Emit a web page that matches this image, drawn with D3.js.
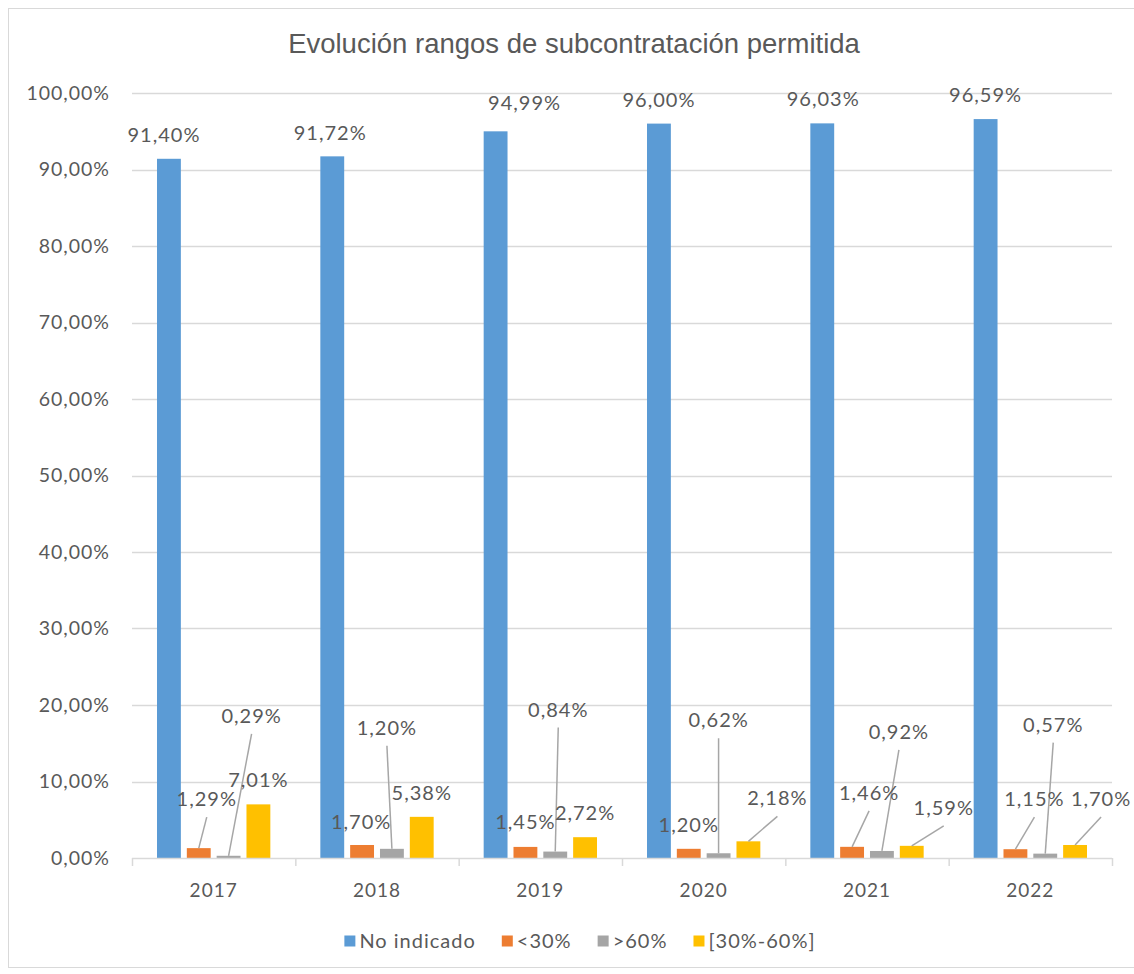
<!DOCTYPE html>
<html>
<head>
<meta charset="utf-8">
<script src="https://cdn.jsdelivr.net/npm/d3@7"></script>
<style>
  body { margin: 0; background: #fff; }
  text { font-family: Lato, "Open Sans", sans-serif; fill: #595959; }
</style>
</head>
<body>
<svg class="chart"></svg>
<script>
const years = ['2017', '2018', '2019', '2020', '2021', '2022']
const seriesNames = ['No indicado', '<30%', '>60%', '[30%-60%]']
const noIndicado = [91.40, 91.72, 94.99, 96.00, 96.03, 96.59]
const menos30 = [1.29, 1.70, 1.45, 1.20, 1.46, 1.15]
const mas60 = [0.29, 1.20, 0.84, 0.62, 0.92, 0.57]
const entre30y60 = [7.01, 5.38, 2.72, 2.18, 1.59, 1.70]
const yTicks = [0, 10, 20, 30, 40, 50, 60, 70, 80, 90, 100]

const colors = ['#5b9bd5', '#ed7d31', '#a5a5a5', '#ffc000']
const allValues = [noIndicado, menos30, mas60, entre30y60]

// hand-placed label nudges (px) like in the original sheet, [dx, dy] per series/year
const labelNudge = [
  [[-5, 0], [-2, 1], [29, -4], [0, 0], [1, 0], [0, 0]],
  [[8, -25], [-1, 1], [0, -1], [0, 0], [17, -30], [19, -26]],
  [[23, -116], [-5, -97], [3, -118], [0, -109], [17, -95], [8, -105]],
  [[0, 0], [0, 0], [0, 0], [29, -19], [32, -14], [26, -22]]
]

const width = 1134, height = 974
const margin = { top: 93, right: 22, bottom: 116, left: 132 }

const svg = d3.select('.chart')
  .attr('width', width)
  .attr('height', height)

const fmt = d3.formatLocale({ decimal: ',', thousands: '.', grouping: [3], currency: ['', '€'] }).format('.2f')
const pct = v => fmt(v) + '%'

const x0 = d3.scaleBand()
  .domain(years)
  .range([margin.left, width - margin.right])
  .padding(0)

const x1 = d3.scaleBand()
  .domain(seriesNames)
  .range([25, x0.bandwidth() - 25])
  .paddingInner(0.2)

const y = d3.scaleLinear()
  .domain([0, 100])
  .range([height - margin.bottom, margin.top])

// outer frame
svg.append('rect')
  .attr('x', 8.5).attr('y', 8.5)
  .attr('width', width + 10).attr('height', 959)
  .attr('fill', 'none')
  .attr('stroke', '#d9d9d9')

svg.append('text')
  .attr('x', 574).attr('y', 53)
  .attr('text-anchor', 'middle')
  .style('font-family', '"Liberation Sans", Arial, sans-serif')
  .style('font-size', '27.5px')
  .text('Evolución rangos de subcontratación  permitida')

// gridlines
svg.append('g')
  .selectAll('line')
  .data(yTicks.slice(1))
  .join('line')
  .attr('x1', margin.left).attr('x2', width - margin.right)
  .attr('y1', d => Math.round(y(d)) + 0.5).attr('y2', d => Math.round(y(d)) + 0.5)
  .attr('stroke', '#d9d9d9')
  .attr('stroke-width', 1.5)

// y axis labels
svg.append('g')
  .selectAll('text')
  .data(yTicks)
  .join('text')
  .attr('x', 110)
  .attr('y', d => y(d))
  .attr('dy', '0.35em')
  .attr('text-anchor', 'end')
  .style('font-size', '19.5px')
  .style('letter-spacing', '1px')
  .text(pct)

// bars
const groups = svg.append('g')
  .selectAll('g')
  .data(seriesNames)
  .join('g')
  .attr('fill', (d, i) => colors[i])

groups.selectAll('rect')
  .data((s, si) => years.map((yr, i) => ({ yr, s, si, i, v: allValues[si][i] })))
  .join('rect')
  .attr('x', d => x0(d.yr) + x1(d.s))
  .attr('width', x1.bandwidth())
  .attr('y', d => y(d.v))
  .attr('height', d => y(0) - y(d.v))

// x axis
const xAxis = svg.append('g')
xAxis.append('line')
  .attr('x1', margin.left).attr('x2', width - margin.right)
  .attr('y1', y(0) + 0.5).attr('y2', y(0) + 0.5)
  .attr('stroke', '#d9d9d9').attr('stroke-width', 1.5)
xAxis.selectAll('.tick')
  .data(years.map(d => x0(d)).concat([width - margin.right]))
  .join('line')
  .attr('x1', d => d + 0.5).attr('x2', d => d + 0.5)
  .attr('y1', y(0)).attr('y2', y(0) + 8)
  .attr('stroke', '#d9d9d9').attr('stroke-width', 1.5)
xAxis.selectAll('text')
  .data(years)
  .join('text')
  .attr('x', d => x0(d) + x0.bandwidth() / 2)
  .attr('y', 890)
  .attr('dy', '0.35em')
  .attr('text-anchor', 'middle')
  .style('font-size', '19px')
  .style('letter-spacing', '1px')
  .text(d => d)

// data labels + leader lines
const labelData = []
seriesNames.forEach((s, si) => {
  years.forEach((yr, i) => {
    const v = allValues[si][i]
    const cx = x0(yr) + x1(s) + x1.bandwidth() / 2
    const top = y(v)
    const [dx, dy] = labelNudge[si][i]
    labelData.push({ v, cx, top, lx: cx + dx, ly: top - 24 + dy, leader: dy < -10 })
  })
})

svg.append('g')
  .selectAll('line')
  .data(labelData.filter(d => d.leader))
  .join('line')
  .attr('x1', d => d.lx).attr('y1', d => d.ly + 18)
  .attr('x2', d => d.cx).attr('y2', d => d.top)
  .attr('stroke', '#a6a6a6')
  .attr('stroke-width', 1.5)

svg.append('g')
  .selectAll('text')
  .data(labelData)
  .join('text')
  .attr('x', d => d.lx)
  .attr('y', d => d.ly)
  .attr('dy', '0.35em')
  .attr('text-anchor', 'middle')
  .style('font-size', '20px')
  .style('letter-spacing', '1px')
  .text(d => pct(d.v))

// legend
const legend = svg.append('g')
let lx = 0
seriesNames.forEach((s, i) => {
  const g = legend.append('g')
  g.append('rect').attr('width', 11).attr('height', 11).attr('y', -5.5).attr('fill', colors[i])
  const t = g.append('text')
    .attr('x', 15).attr('dy', '0.35em')
    .style('font-size', '20px')
    .style('letter-spacing', '1px')
    .text(s)
  const w = 15 + t.node().getComputedTextLength()
  g.attr('transform', `translate(${lx},0)`)
  lx += w + 26
})
const legendW = lx - 26
legend.attr('transform', `translate(${580 - legendW / 2},941)`)
</script>
</body>
</html>
